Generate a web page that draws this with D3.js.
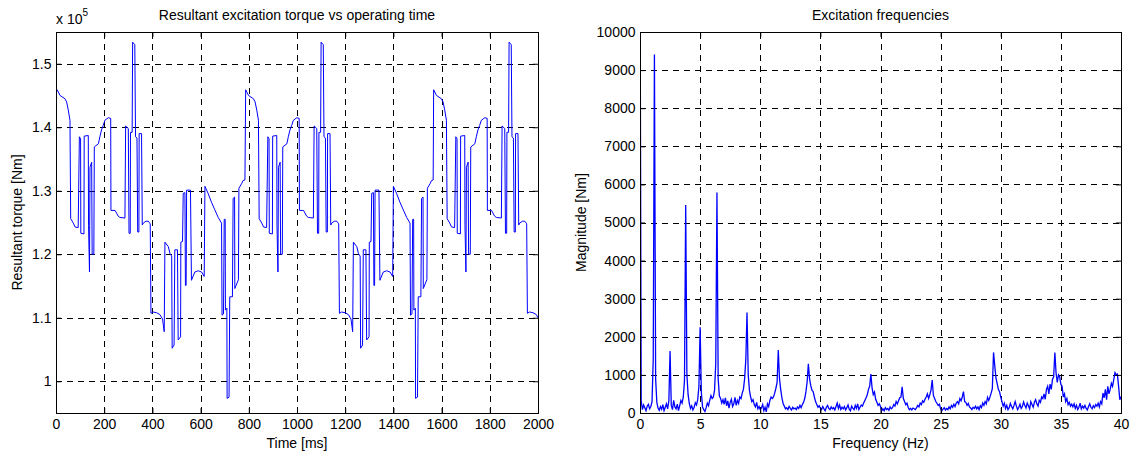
<!DOCTYPE html>
<html><head><meta charset="utf-8">
<script src="https://cdn.jsdelivr.net/npm/d3@7"></script>
<style>
body{margin:0;background:#fff;}
svg{display:block;}
</style></head><body>
<svg id="chart" width="1130" height="455"></svg>
<script>
// ---------- DATA ----------
// Resultant torque [x 1e5 Nm] vs time [ms]: [time, torque]
const torqueCycle1 = [
 [0,1.460],[5,1.459],[17,1.450],[37,1.445],[44,1.440],[51,1.427],[58,1.411],[61,1.256],[72,1.249],[79,1.243],
 [92,1.242],[97,1.385],[102,1.382],[103,1.233],[116,1.232],[117,1.386],[134,1.387],[135,1.245],[139,1.172],[141,1.337],
 [148,1.345],[150,1.200],[157,1.200],[159,1.369],[176,1.374],[182,1.385],[189,1.396],[196,1.403],[203,1.411],[217,1.415],
 [227,1.414],[228,1.269],[245,1.269],[251,1.265],[258,1.260],[265,1.258],[286,1.257],[289,1.402],[300,1.398],[303,1.233],
 [308,1.233],[309,1.392],[316,1.392],[318,1.534],[327,1.530],[330,1.385],[336,1.383],[339,1.235],[344,1.235],[345,1.390],
 [355,1.390],[358,1.246],[362,1.249],[373,1.252],[383,1.252],[391,1.248],[394,1.107],[403,1.109],[417,1.108],[431,1.105],
 [442,1.098],[449,1.078],[452,1.219],[466,1.212],[473,1.201],[480,1.197],[482,1.052],[490,1.057],[493,1.207],[504,1.207],
 [507,1.065],[517,1.070],[518,1.219],[525,1.220],[528,1.296],[535,1.297],[537,1.151],[540,1.151],[542,1.301],[558,1.301],
 [562,1.159],[576,1.172],[590,1.174],[604,1.172],[615,1.165],[618,1.307],[631,1.296],[645,1.282],[659,1.270],[673,1.258],
 [687,1.249],[689,1.104],[695,1.106],[698,1.255],[702,1.255],[703,1.112],[709,1.115],[710,0.973],[718,0.975],[721,1.133],
 [732,1.133],[735,1.288],[741,1.290],[742,1.146],[757,1.160],[759,1.304],[770,1.311],[776,1.316],[784,1.317]
];
const torqueCycle2 = [
 [787,1.459],[799,1.450],[819,1.445],[826,1.440],[833,1.427],[840,1.411],[843,1.256],[854,1.249],[861,1.243],
 [874,1.242],[879,1.385],[884,1.382],[885,1.233],[898,1.232],[899,1.386],[916,1.387],[917,1.245],[921,1.172],[923,1.337],
 [930,1.345],[932,1.200],[939,1.200],[941,1.369],[958,1.374],[964,1.385],[971,1.396],[978,1.403],[985,1.411],[999,1.415],
 [1009,1.414],[1010,1.269],[1027,1.269],[1033,1.265],[1040,1.260],[1047,1.258],[1068,1.257],[1071,1.402],[1082,1.398],[1085,1.233],
 [1090,1.233],[1091,1.392],[1098,1.392],[1100,1.534],[1109,1.530],[1112,1.385],[1118,1.383],[1121,1.235],[1126,1.235],[1127,1.390],
 [1137,1.390],[1140,1.246],[1144,1.249],[1155,1.252],[1165,1.252],[1173,1.248],[1176,1.107],[1185,1.109],[1199,1.108],[1213,1.105],
 [1224,1.098],[1231,1.078],[1234,1.219],[1248,1.212],[1255,1.201],[1262,1.197],[1264,1.052],[1272,1.057],[1275,1.207],[1286,1.207],
 [1289,1.065],[1299,1.070],[1300,1.219],[1307,1.220],[1310,1.296],[1317,1.297],[1319,1.151],[1322,1.151],[1324,1.301],[1340,1.301],
 [1344,1.159],[1358,1.172],[1372,1.174],[1386,1.172],[1397,1.165],[1400,1.307],[1413,1.296],[1427,1.282],[1441,1.270],[1455,1.258],
 [1469,1.249],[1471,1.104],[1477,1.106],[1480,1.255],[1484,1.255],[1485,1.112],[1491,1.115],[1492,0.973],[1500,0.975],[1503,1.133],
 [1514,1.133],[1517,1.288],[1523,1.290],[1524,1.146],[1539,1.160],[1541,1.304],[1552,1.311],[1558,1.316],[1565,1.317]
];
const torqueCycle3 = [
 [1567,1.459],[1579,1.450],[1599,1.445],[1606,1.440],[1613,1.427],[1620,1.411],[1623,1.256],[1634,1.249],[1641,1.243],
 [1654,1.242],[1659,1.385],[1664,1.382],[1665,1.233],[1678,1.232],[1679,1.386],[1696,1.387],[1697,1.245],[1701,1.172],[1703,1.337],
 [1710,1.345],[1712,1.200],[1719,1.200],[1721,1.369],[1738,1.374],[1744,1.385],[1751,1.396],[1758,1.403],[1765,1.411],[1779,1.415],
 [1789,1.414],[1790,1.269],[1807,1.269],[1813,1.265],[1820,1.260],[1827,1.258],[1848,1.257],[1851,1.402],[1862,1.398],[1865,1.233],
 [1870,1.233],[1871,1.392],[1878,1.392],[1880,1.534],[1889,1.530],[1892,1.385],[1898,1.383],[1901,1.235],[1906,1.235],[1907,1.390],
 [1917,1.390],[1920,1.246],[1924,1.249],[1935,1.252],[1945,1.252],[1953,1.248],[1956,1.107],[1965,1.109],[1979,1.108],[1993,1.105],
 [2000,1.100]
];

// Spectrum magnitude [Nm], one value per 0.1 Hz from 0 to 40 Hz
const freqStartHz = 0;
const freqStepHz = 0.1;
const spectrumMagnitude = [
 12000,320,90,210,140,60,180,230,110,170,
 300,1400,9410,900,280,130,70,170,100,220,
 60,150,240,110,320,1630,200,90,330,160,
 110,230,60,190,330,260,420,850,5460,1000,
 480,250,120,190,80,150,270,210,350,700,
 2250,550,160,90,40,140,260,190,340,460,
 380,420,600,1300,5790,900,450,380,260,350,
 230,400,190,320,130,280,360,170,240,410,
 200,330,250,420,380,520,620,900,1400,2640,
 1000,600,420,300,350,220,160,280,110,170,
 90,140,220,60,150,30,240,170,330,420,
 380,420,520,650,800,1650,900,620,400,250,
 180,110,140,90,170,120,80,150,110,130,
 90,160,120,200,140,220,280,380,560,820,
 1290,900,720,600,560,420,300,220,150,190,
 130,90,170,110,60,150,200,120,90,160,
 110,140,80,170,260,120,210,90,150,110,
 170,80,140,210,100,60,180,130,90,200,
 120,240,90,150,210,180,260,330,400,480,
 620,700,1020,650,480,550,360,280,200,240,
 170,60,110,60,140,90,120,70,160,110,
 140,220,180,300,240,320,400,420,690,380,
 300,220,260,150,90,120,80,130,110,90,
 140,200,160,260,220,320,280,360,420,500,
 380,480,600,865,460,380,300,250,200,230,
 110,60,100,140,80,120,90,160,110,200,
 150,230,170,260,300,240,380,320,420,560,
 300,280,200,250,160,130,90,150,120,180,
 110,160,90,190,140,260,200,300,240,410,
 330,420,520,640,1590,1250,920,780,620,560,
 420,300,180,260,120,200,90,140,250,170,
 110,200,300,180,90,150,230,120,170,290,
 200,130,260,190,110,300,220,150,280,350,
 240,180,330,280,420,380,500,360,620,700,
 500,760,620,880,950,1590,1050,800,1000,950,
 750,700,420,500,300,380,220,280,180,230,
 160,240,120,200,90,150,260,110,180,130,
 200,120,80,170,240,150,110,190,140,220,
 180,260,160,300,240,520,400,620,350,700,
 500,620,780,700,880,1060,1000,1020,700,350,
 430
];

// Tick values / labels
const timeTicks = [0,200,400,600,800,1000,1200,1400,1600,1800,2000];
const torqueTicks = [1.0,1.1,1.2,1.3,1.4,1.5];
const torqueTickLabels = ["1","1.1","1.2","1.3","1.4","1.5"];
const freqTicks = [0,5,10,15,20,25,30,35,40];
const magTicks = [0,1000,2000,3000,4000,5000,6000,7000,8000,9000,10000];

// ---------- DRAWING ----------
const FONT = "'Liberation Sans', Arial, Helvetica, sans-serif";
const FS = 14;
const svg = d3.select("#chart");

function drawPanel(p) {
  const g = svg.append("g").attr("transform", `translate(${p.left},${p.top})`);
  const x = d3.scaleLinear().domain(p.xDomain).range([0, p.width]);
  const y = d3.scaleLinear().domain(p.yDomain).range([p.height, 0]);

  // grid (dashed)
  const xg = g.append("g").attr("transform", `translate(0,${p.height})`)
    .call(d3.axisBottom(x).tickValues(p.xTicks.filter(v => v > p.xDomain[0] && v < p.xDomain[1]))
      .tickSize(-p.height).tickFormat(""));
  xg.select(".domain").remove();
  xg.selectAll("line").attr("stroke", "#000").attr("stroke-dasharray", "6,5").attr("shape-rendering","crispEdges");
  const yg = g.append("g")
    .call(d3.axisLeft(y).tickValues(p.yTicks.filter(v => v > p.yDomain[0] && v < p.yDomain[1]))
      .tickSize(-p.width).tickFormat(""));
  yg.select(".domain").remove();
  yg.selectAll("line").attr("stroke", "#000").attr("stroke-dasharray", "6,5").attr("shape-rendering","crispEdges");

  // clip + data line
  const clipId = "clip" + p.id;
  g.append("clipPath").attr("id", clipId).append("rect")
    .attr("x", 0).attr("y", 0).attr("width", p.width).attr("height", p.height);
  const line = d3.line().x(d => x(d[0])).y(d => y(d[1]));
  g.append("path").datum(p.data).attr("clip-path", `url(#${clipId})`)
    .attr("fill", "none").attr("stroke", "#0000ff").attr("stroke-width", p.lineWidth)
    .attr("stroke-linejoin","miter").attr("d", line);

  // axes
  const ax = g.append("g").attr("transform", `translate(0,${p.height})`)
    .call(d3.axisBottom(x).tickValues(p.xTicks).tickSizeInner(-5).tickSizeOuter(0).tickPadding(6.5)
      .tickFormat(p.xFormat));
  const ay = g.append("g")
    .call(d3.axisLeft(y).tickValues(p.yTicks).tickSizeInner(-5).tickSizeOuter(0).tickPadding(4.5)
      .tickFormat(p.yFormat));
  const at = g.append("g")
    .call(d3.axisTop(x).tickValues(p.xTicks).tickSizeInner(-5).tickSizeOuter(0).tickFormat(""));
  const ar = g.append("g").attr("transform", `translate(${p.width},0)`)
    .call(d3.axisRight(y).tickValues(p.yTicks).tickSizeInner(-5).tickSizeOuter(0).tickFormat(""));
  [ax, ay, at, ar].forEach(a => {
    a.attr("font-family", FONT).attr("font-size", FS);
    a.selectAll("text").attr("fill", "#000");
    a.selectAll("line").attr("stroke", "#000");
    a.select(".domain").attr("stroke", "#000");
  });

  // frame
  g.append("rect").attr("x", 0.5).attr("y", 0.5).attr("width", p.width).attr("height", p.height)
    .attr("fill", "none").attr("stroke", "#000").attr("stroke-width", 1);

  // labels
  svg.append("text").attr("x", p.left + p.width / 2).attr("y", 20)
    .attr("text-anchor", "middle").attr("font-family", FONT).attr("font-size", FS).text(p.title);
  svg.append("text").attr("x", p.left + p.width / 2).attr("y", 448)
    .attr("text-anchor", "middle").attr("font-family", FONT).attr("font-size", FS).text(p.xLabel);
  svg.append("text").attr("transform", `translate(${p.yLabelX},${p.top + p.height / 2}) rotate(-90)`)
    .attr("text-anchor", "middle").attr("font-family", FONT).attr("font-size", FS).text(p.yLabel);
}

drawPanel({
  id: "L", left: 56, top: 32, width: 482, height: 381,
  xDomain: [0, 2000], yDomain: [0.95, 1.55],
  xTicks: timeTicks, yTicks: torqueTicks,
  xFormat: d => d3.format("d")(d),
  yFormat: d => torqueTickLabels[torqueTicks.indexOf(d)],
  data: torqueCycle1.concat(torqueCycle2, torqueCycle3),
  lineWidth: 1,
  title: "Resultant excitation torque vs operating time",
  xLabel: "Time [ms]", yLabel: "Resultant torque [Nm]", yLabelX: 22
});

drawPanel({
  id: "R", left: 640, top: 32, width: 481, height: 381,
  xDomain: [0, 40], yDomain: [0, 10000],
  xTicks: freqTicks, yTicks: magTicks,
  xFormat: d => d3.format("d")(d),
  yFormat: d => d3.format("d")(d),
  data: spectrumMagnitude.map((m, i) => [freqStartHz + i * freqStepHz, m]),
  lineWidth: 1.3,
  title: "Excitation frequencies",
  xLabel: "Frequency (Hz)", yLabel: "Magnitude [Nm]", yLabelX: 586
});

// exponent label "x 10^5"
const expo = svg.append("text").attr("x", 56).attr("y", 24)
  .attr("font-family", FONT).attr("font-size", FS);
expo.append("tspan").text("x 10");
expo.append("tspan").attr("font-size", 10).attr("dy", -8).text("5");
</script>
</body></html>
